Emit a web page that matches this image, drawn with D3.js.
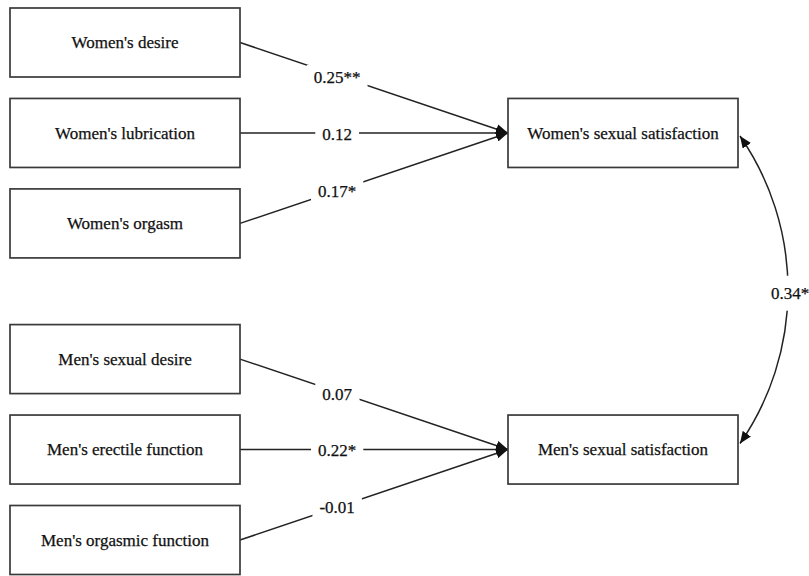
<!DOCTYPE html>
<html>
<head>
<meta charset="utf-8">
<script src="https://cdn.jsdelivr.net/npm/d3@7"></script>
<style>
  html, body { margin: 0; padding: 0; background: #fff; }
  svg { display: block; }
</style>
</head>
<body>
<svg id="chart" width="809" height="576"></svg>
<script>
// ---- data ----
const predictors = ["Women's desire", "Women's lubrication", "Women's orgasm",
                    "Men's sexual desire", "Men's erectile function", "Men's orgasmic function"];
const predictorRows = [0, 1, 2, 3.5, 4.5, 5.5];
const outcomes = ["Women's sexual satisfaction", "Men's sexual satisfaction"];
const outcomeRows = [1, 4.5];
const pathTargets = [0, 0, 0, 1, 1, 1];
const coefficients = ["0.25**", "0.12", "0.17*", "0.07", "0.22*", "-0.01"];
const covarianceLabel = ["0.34*"];

// ---- layout ----
const svg = d3.select("#chart");
const boxH = 69;
const rowY = d3.scaleLinear().domain([0, 5.5]).range([8, 505.5]);
const leftX = 10, leftW = 230;
const rightX = 508, rightW = 230;
const FF = '"Liberation Serif"';
const fs = 17;
const ink = "#111";
const stroke = "#3a3a3a";

function styleText(sel) {
  return sel.style("font-family", FF).style("font-size", fs + "px")
    .attr("fill", ink).attr("stroke", ink).attr("stroke-width", 0.25);
}

const defs = svg.append("defs");
defs.append("marker")
  .attr("id", "arrow")
  .attr("viewBox", "0 0 12 10")
  .attr("refX", 12).attr("refY", 5)
  .attr("markerWidth", 12).attr("markerHeight", 10)
  .attr("markerUnits", "userSpaceOnUse")
  .attr("orient", "auto-start-reverse")
  .append("path").attr("d", "M0,0 L12,5 L0,10 Z").attr("fill", "#111");

const paths = predictors.map((p, i) => {
  const x1 = leftX + leftW, y1 = rowY(predictorRows[i]) + boxH / 2;
  const x2 = rightX, y2 = rowY(outcomeRows[pathTargets[i]]) + boxH / 2;
  return { x1, y1, x2, y2, label: coefficients[i] };
});

svg.append("g").selectAll("line").data(paths).join("line")
  .attr("x1", d => d.x1).attr("y1", d => d.y1)
  .attr("x2", d => d.x2).attr("y2", d => d.y2)
  .attr("stroke", "#222").attr("stroke-width", 1.5)
  .attr("marker-end", "url(#arrow)");

const labelT = 0.37;
const lg = svg.append("g").selectAll("g").data(paths).join("g")
  .attr("transform", d => {
    const x = d.x1 + (d.x2 - d.x1) * labelT - 2;
    const y = d.y1 + (d.y2 - d.y1) * labelT + 1;
    return `translate(${x},${y})`;
  });
styleText(lg.append("text").attr("text-anchor", "middle").attr("dy", "0.35em"))
  .text(d => d.label)
  .each(function () {
    const b = this.getBBox();
    d3.select(this.parentNode).insert("rect", "text")
      .attr("x", b.x - 7).attr("y", b.y - 3)
      .attr("width", b.width + 14).attr("height", b.height + 6)
      .attr("fill", "#fff");
  });

const pg = svg.append("g").selectAll("g").data(predictors).join("g")
  .attr("transform", (d, i) => `translate(${leftX},${rowY(predictorRows[i])})`);
pg.append("rect").attr("width", leftW).attr("height", boxH)
  .attr("fill", "#fff").attr("stroke", stroke).attr("stroke-width", 1.7);
styleText(pg.append("text").attr("x", leftW / 2).attr("y", boxH / 2).attr("dy", "0.35em")
  .attr("text-anchor", "middle")).text(d => d);

const og = svg.append("g").selectAll("g").data(outcomes).join("g")
  .attr("transform", (d, i) => `translate(${rightX},${rowY(outcomeRows[i])})`);
og.append("rect").attr("width", rightW).attr("height", boxH)
  .attr("fill", "#fff").attr("stroke", stroke).attr("stroke-width", 1.7);
styleText(og.append("text").attr("x", rightW / 2).attr("y", boxH / 2).attr("dy", "0.35em")
  .attr("text-anchor", "middle")).text(d => d);

// covariance arc
const cx1 = rightX + rightW + 2, cy1 = rowY(outcomeRows[0]) + boxH / 2 + 3;
const cx2 = rightX + rightW + 2, cy2 = rowY(outcomeRows[1]) + boxH / 2 - 6;
const chord = cy2 - cy1, sag = 48;
const R = ((chord / 2) ** 2 + sag ** 2) / (2 * sag);
svg.append("path")
  .attr("d", `M${cx1},${cy1} A${R},${R} 0 0 1 ${cx2},${cy2}`)
  .attr("fill", "none").attr("stroke", "#222").attr("stroke-width", 1.5)
  .attr("marker-start", "url(#arrow)").attr("marker-end", "url(#arrow)");

const midY = (cy1 + cy2) / 2 + 3;
const cl = svg.append("g").attr("transform", `translate(${cx1 + sag + 2},${midY})`);
styleText(cl.append("text").attr("text-anchor", "middle").attr("dy", "0.35em"))
  .text(covarianceLabel[0])
  .each(function () {
    const b = this.getBBox();
    cl.insert("rect", "text").attr("x", b.x - 2).attr("y", b.y - 8)
      .attr("width", b.width + 4).attr("height", b.height + 16).attr("fill", "#fff");
  });
</script>
</body>
</html>
